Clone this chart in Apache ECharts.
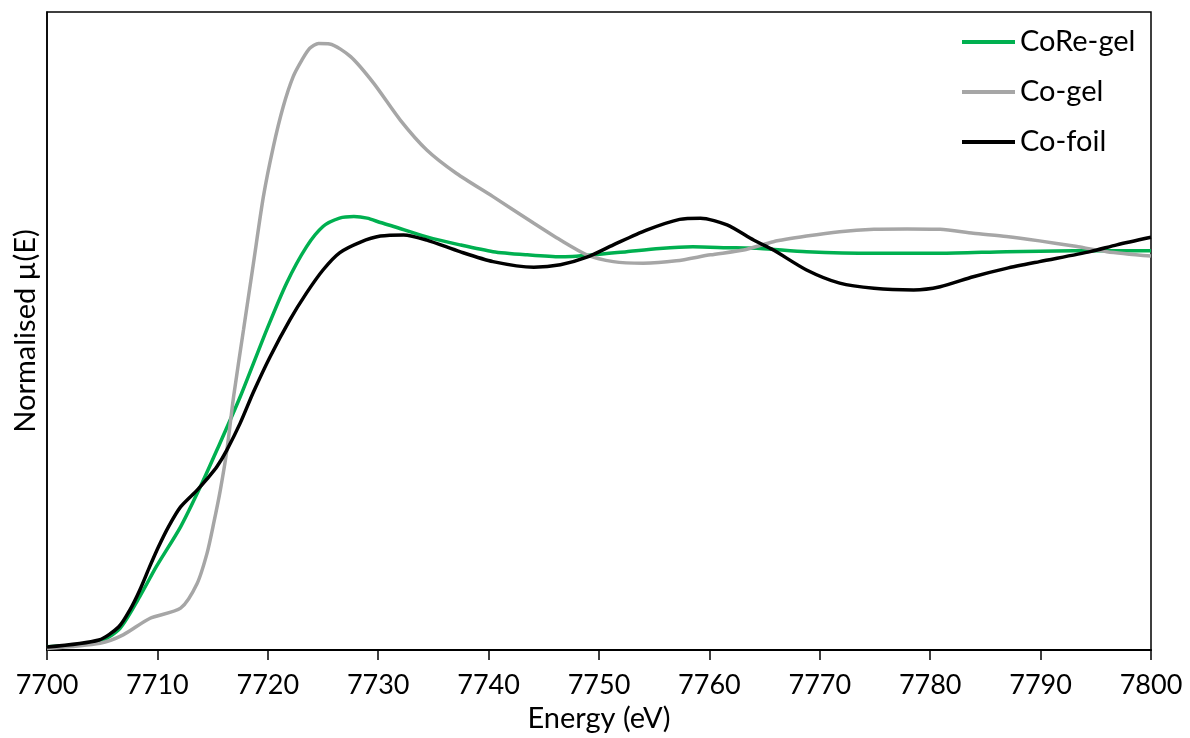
<!DOCTYPE html>
<html>
<head>
<meta charset="utf-8">
<script src="https://cdn.jsdelivr.net/npm/echarts@6/dist/echarts.min.js"></script>
<style>
html,body{margin:0;padding:0;background:#fff;}
#chart{width:1190px;height:738px;}
</style>
</head>
<body>
<div id="chart"></div>
<script>
// X-axis ticks
const xTicks = [7700, 7710, 7720, 7730, 7740, 7750, 7760, 7770, 7780, 7790, 7800];

// CoRe-gel
const coReGelE = [7700.0, 7704.7, 7706.6, 7708.4, 7709.9, 7712.1, 7713.9, 7715.4, 7717.5, 7719.9, 7721.7, 7723.5, 7725.0, 7726.5, 7727.8, 7729.0, 7730.2, 7731.4, 7734.4, 7737.4, 7740.4, 7743.5, 7746.5, 7749.5, 7752.5, 7755.5, 7758.5, 7761.6, 7764.6, 7768.8, 7774.9, 7780.9, 7786.9, 7793.0, 7800.0];
const coReGelMu = [0.008, 0.021, 0.054, 0.134, 0.209, 0.309, 0.410, 0.502, 0.635, 0.803, 0.920, 1.011, 1.062, 1.083, 1.087, 1.083, 1.072, 1.062, 1.036, 1.016, 0.999, 0.991, 0.986, 0.991, 0.999, 1.007, 1.011, 1.009, 1.007, 0.999, 0.995, 0.995, 0.999, 1.001, 1.001];

// Co-gel
const coGelE = [7700.0, 7704.8, 7706.9, 7709.3, 7712.1, 7713.6, 7714.5, 7715.1, 7715.7, 7716.3, 7716.9, 7717.8, 7718.7, 7719.6, 7720.5, 7721.4, 7722.3, 7723.1, 7723.8, 7724.6, 7725.6, 7727.5, 7729.6, 7732.0, 7734.4, 7737.1, 7740.4, 7744.1, 7746.5, 7748.9, 7751.3, 7754.0, 7757.0, 7760.1, 7763.1, 7765.8, 7768.8, 7771.8, 7774.9, 7777.9, 7780.9, 7783.9, 7786.9, 7789.9, 7793.0, 7796.0, 7800.0];
const coGelMu = [0.004, 0.017, 0.038, 0.079, 0.105, 0.167, 0.243, 0.318, 0.401, 0.502, 0.635, 0.803, 0.970, 1.137, 1.262, 1.363, 1.438, 1.480, 1.509, 1.521, 1.520, 1.488, 1.421, 1.329, 1.254, 1.195, 1.137, 1.070, 1.028, 0.991, 0.974, 0.970, 0.976, 0.991, 1.003, 1.024, 1.038, 1.049, 1.055, 1.056, 1.055, 1.045, 1.037, 1.026, 1.013, 0.999, 0.988];

// Co-foil
const coFoilE = [7700.0, 7704.7, 7706.5, 7707.5, 7708.4, 7709.3, 7710.1, 7711.0, 7712.1, 7713.6, 7714.5, 7715.4, 7716.3, 7717.5, 7718.7, 7720.2, 7722.0, 7723.5, 7725.0, 7726.5, 7728.4, 7730.2, 7732.3, 7734.4, 7737.4, 7740.4, 7744.1, 7746.5, 7748.9, 7751.3, 7754.3, 7757.3, 7759.2, 7761.6, 7764.0, 7765.8, 7768.8, 7771.8, 7774.9, 7778.5, 7780.9, 7783.9, 7786.9, 7789.9, 7794.5, 7796.9, 7800.0];
const coFoilMu = [0.0075, 0.025, 0.058, 0.100, 0.150, 0.209, 0.259, 0.309, 0.359, 0.401, 0.429, 0.460, 0.502, 0.569, 0.647, 0.735, 0.828, 0.895, 0.953, 0.996, 1.023, 1.038, 1.041, 1.028, 0.999, 0.974, 0.960, 0.966, 0.985, 1.016, 1.053, 1.080, 1.083, 1.066, 1.028, 1.003, 0.953, 0.920, 0.907, 0.903, 0.911, 0.936, 0.957, 0.974, 0.999, 1.016, 1.035];

const seriesNames = ['CoRe-gel', 'Co-gel', 'Co-foil'];
const seriesColors = ['#00B050', '#A6A6A6', '#000000'];

function pairs(xs, ys) { return xs.map((x, i) => [x, ys[i]]); }
const seriesData = [pairs(coReGelE, coReGelMu), pairs(coGelE, coGelMu), pairs(coFoilE, coFoilMu)];

const FONT = 'Lato';
const chart = echarts.init(document.getElementById('chart'), null, {renderer: 'canvas'});
chart.setOption({
  animation: false,
  backgroundColor: '#fff',
  textStyle: {fontFamily: FONT},
  grid: {left: 47, right: 39, top: 12, bottom: 88, show: true, borderColor: '#000', borderWidth: 1.5, backgroundColor: 'transparent'},
  legend: {
    orient: 'vertical',
    left: 957,
    top: 22,
    icon: 'rect',
    itemWidth: 53,
    itemHeight: 4,
    itemGap: 20,
    textStyle: {fontFamily: FONT, fontSize: 29, color: '#000', lineHeight: 30},
    data: seriesNames
  },
  xAxis: {
    type: 'value',
    min: xTicks[0],
    max: xTicks[xTicks.length - 1],
    interval: 10,
    name: 'Energy (eV)',
    nameLocation: 'middle',
    nameGap: 53,
    nameTextStyle: {fontFamily: FONT, fontSize: 29, color: '#000'},
    axisLine: {show: true, onZero: false, lineStyle: {color: '#000', width: 2}},
    axisTick: {show: true, length: 10, lineStyle: {color: '#000', width: 1.5}},
    axisLabel: {fontFamily: FONT, fontSize: 27, color: '#000', margin: 22, formatter: v => String(v)},
    splitLine: {show: false}
  },
  yAxis: {
    type: 'value',
    min: 0,
    max: 1.6,
    name: 'Normalised µ(E)',
    nameLocation: 'middle',
    nameGap: 7,
    nameTextStyle: {fontFamily: FONT, fontSize: 29, color: '#000'},
    axisLine: {show: true, lineStyle: {color: '#000', width: 1.5}},
    axisTick: {show: false},
    axisLabel: {show: false},
    splitLine: {show: false}
  },
  series: seriesNames.map((n, i) => ({
    name: n,
    type: 'line',
    data: seriesData[i],
    smooth: 0.25,
    showSymbol: false,
    symbol: 'none',
    lineStyle: {color: seriesColors[i], width: 3.5},
    itemStyle: {color: seriesColors[i]}
  }))
});
</script>
</body>
</html>
